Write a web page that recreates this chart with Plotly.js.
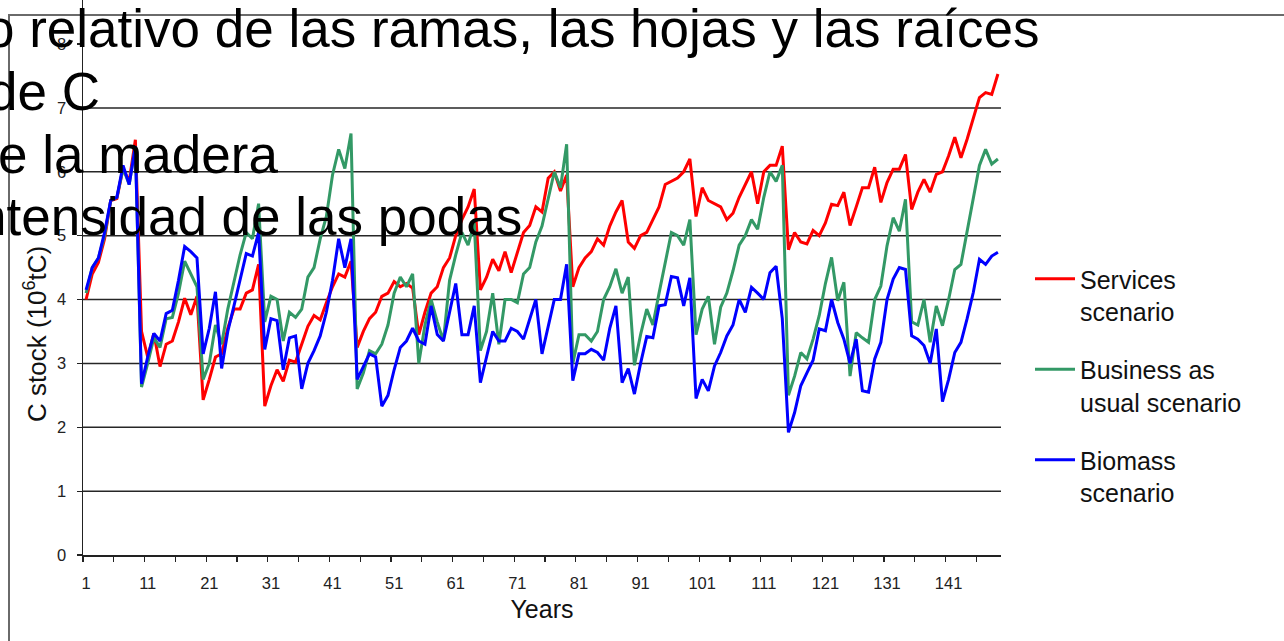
<!DOCTYPE html>
<html>
<head>
<meta charset="utf-8">
<script src="https://cdn.plot.ly/plotly-3.0.1.min.js"></script>
<style>
  html, body { margin: 0; padding: 0; background: #ffffff; }
  #wrap { position: relative; width: 1284px; height: 641px; overflow: hidden; background: #fff; }
  #frame { position: absolute; left: 8px; top: 14px; width: 1290px; height: 640px;
           border-left: 2px solid #6a6a6a; border-top: 2px solid #6a6a6a; }
  #chart { position: absolute; left: 0; top: 0; width: 1284px; height: 641px; }
</style>
</head>
<body>
<div id="wrap">
  <div id="frame"></div>
  <div id="chart"></div>
</div>
<script>
// ---- Data (C stock, 10^6 tC), one value per year ----
const services = [
  4.0, 4.4, 4.58, 4.95, 5.55, 5.58, 6.05, 5.85, 6.5, 3.5,
  3.1, 3.47, 2.95, 3.3, 3.35, 3.65, 4.02, 3.76, 4.05, 2.43,
  2.75, 3.1, 3.15, 3.55, 3.85, 3.85, 4.1, 4.15, 4.55, 2.33,
  2.65, 2.9, 2.72, 3.05, 3.02, 3.3, 3.58, 3.75, 3.68, 3.95,
  4.2, 4.4, 4.35, 4.6, 3.25, 3.5, 3.7, 3.8, 4.05, 4.1,
  4.28, 4.2, 4.25, 4.18, 3.45, 3.8, 4.1, 4.2, 4.5, 4.65,
  5.0, 5.25, 5.45, 5.73, 4.15, 4.35, 4.63, 4.45, 4.75, 4.42,
  4.75, 5.05, 5.16, 5.45, 5.37, 5.9, 6.0, 5.7, 5.95, 4.2,
  4.5, 4.65, 4.75, 4.95, 4.85, 5.15, 5.37, 5.55, 4.9, 4.8,
  5.0, 5.05, 5.25, 5.45, 5.8, 5.85, 5.9, 6.0, 6.2, 5.3,
  5.75, 5.55, 5.5, 5.45, 5.25, 5.35, 5.6, 5.8, 6.0, 5.5,
  6.0, 6.1, 6.1, 6.4, 4.78, 5.05, 4.9, 4.87, 5.08, 5.0,
  5.2, 5.49, 5.47, 5.68, 5.16, 5.45, 5.75, 5.75, 6.07, 5.52,
  5.83, 6.04, 6.04, 6.27, 5.41, 5.68, 5.88, 5.68, 5.96, 6.0,
  6.25, 6.54, 6.22, 6.51, 6.85, 7.16, 7.24, 7.21, 7.53
];
const businessAsUsual = [
  4.1, 4.5, 4.65, 5.0, 5.55, 5.6, 6.05, 5.8, 6.4, 2.63,
  3.0, 3.4, 3.25, 3.7, 3.72, 4.1, 4.6, 4.4, 4.2, 2.75,
  3.0, 3.6, 3.3, 3.85, 4.3, 4.7, 5.05, 4.95, 5.5, 3.65,
  4.05, 4.0, 3.35, 3.8, 3.72, 3.85, 4.35, 4.5, 4.95, 5.3,
  5.95, 6.35, 6.05, 6.6, 2.6, 2.85, 3.2, 3.15, 3.3, 3.6,
  4.1, 4.35, 4.2, 4.4, 3.0, 3.6, 4.0, 3.65, 3.35, 4.3,
  4.7, 5.05, 4.85, 5.2, 3.2, 3.5, 4.1, 3.3, 4.0, 4.0,
  3.95, 4.4, 4.5, 4.9, 5.15, 5.6, 6.0, 5.75, 6.43, 3.0,
  3.45, 3.45, 3.35, 3.5, 4.0, 4.2, 4.48, 4.1, 4.35, 2.97,
  3.45, 3.85, 3.6, 4.1, 4.55, 5.05, 5.0, 4.85, 5.25, 3.45,
  3.85, 4.05, 3.3, 3.88, 4.1, 4.45, 4.85, 5.0, 5.25, 5.1,
  5.6, 6.0, 5.85, 6.1, 2.5, 2.8, 3.17, 3.07, 3.38, 3.75,
  4.25, 4.66, 3.98, 4.27, 2.8, 3.48, 3.4, 3.33, 4.0, 4.21,
  4.84, 5.28, 5.07, 5.57, 3.65, 3.6, 4.0, 3.33, 3.9, 3.59,
  4.0, 4.47, 4.55, 5.05, 5.57, 6.1, 6.35, 6.12, 6.2
];
const biomass = [
  4.15, 4.5, 4.65, 5.05, 5.55, 5.6, 6.1, 5.8, 6.4, 2.68,
  3.1, 3.47, 3.35, 3.78, 3.83, 4.3, 4.83, 4.75, 4.65, 3.15,
  3.55, 4.12, 2.92, 3.5, 3.9, 4.3, 4.72, 4.68, 5.05, 3.22,
  3.7, 3.67, 2.9, 3.4, 3.43, 2.6, 3.0, 3.2, 3.43, 3.8,
  4.3, 4.95, 4.5, 4.95, 2.75, 2.95, 3.15, 3.1, 2.33, 2.5,
  2.9, 3.25, 3.35, 3.55, 3.35, 3.3, 3.9, 3.45, 3.35, 3.8,
  4.25, 3.45, 3.45, 3.9, 2.7, 3.1, 3.5, 3.35, 3.35, 3.55,
  3.5, 3.38, 3.7, 4.0, 3.15, 3.6, 4.0, 4.0, 4.55, 2.73,
  3.15, 3.15, 3.22, 3.17, 3.05, 3.55, 3.9, 2.7, 2.92, 2.52,
  3.0, 3.42, 3.4, 3.9, 3.92, 4.36, 4.34, 3.9, 4.34, 2.45,
  2.75, 2.57, 2.96, 3.17, 3.43, 3.6, 4.0, 3.8, 4.19, 4.1,
  4.0, 4.42, 4.52, 3.7, 1.92, 2.23, 2.65, 2.85, 3.05, 3.54,
  3.51, 4.0, 3.64, 3.38, 3.0, 3.38, 2.57, 2.55, 3.07, 3.33,
  4.0, 4.32, 4.5, 4.47, 3.43, 3.38, 3.28, 3.0, 3.54, 2.4,
  2.75, 3.17, 3.33, 3.7, 4.11, 4.63, 4.55, 4.68, 4.74
];
// categories: simulation years 1..149
const years = services.map((_, i) => i + 1);

const seriesNames = ['Services<br>scenario', 'Business as<br>usual scenario', 'Biomass<br>scenario'];
const seriesColors = ['#ff0000', '#339966', '#0000ff'];

const xTickVals = [1, 11, 21, 31, 41, 51, 61, 71, 81, 91, 101, 111, 121, 131, 141];
const xTickText = ['1', '11', '21', '31', '41', '51', '61', '71', '81', '91', '101', '111', '121', '131', '141'];
const yTickVals = [0, 1, 2, 3, 4, 5, 6, 7, 8];
const yTickText = ['0', '1', '2', '3', '4', '5', '6', '7', '8'];
const gridValues = [1, 2, 3, 4, 5, 6, 7];

const titleLines = [
  'o relativo de las ramas, las hojas y las raíces',
  'de C',
  'e la madera',
  'ntensidad de las podas'
];
const yTitle = 'C stock (10<sup>6</sup>tC)';
const xTitle = 'Years';

// ---- Layout geometry ----
const W = 1284, H = 641;
const M = { l: 83, r: 283, t: 0, b: 86 };
const PW = W - M.l - M.r, PH = H - M.t - M.b;
const px2x = px => (px - M.l) / PW;
const py2y = py => (H - M.b - py) / PH;

const FONT = 'Liberation Sans, Arial, sans-serif';

const traces = [services, businessAsUsual, biomass].map((vals, i) => ({
  type: 'scatter',
  mode: 'lines',
  x: years,
  y: vals,
  name: seriesNames[i],
  legendgroup: 'g' + i,
  line: { color: seriesColors[i], width: 3 },
  hoverinfo: 'skip'
}));

const titleStarts = [-17, -14, -4, -25];
const titleCenters = [28.5, 91.5, 154.5, 216.5];
const annotations = titleLines.map((t, i) => ({
  text: t,
  xref: 'paper', yref: 'paper',
  x: px2x(titleStarts[i]), y: py2y(titleCenters[i]),
  xanchor: 'left', yanchor: 'middle',
  showarrow: false,
  font: { family: FONT, size: 53, color: '#000' }
}));
// y axis title, placed where the reference draws it
annotations.push({
  text: yTitle,
  xref: 'paper', yref: 'paper',
  x: px2x(35), y: py2y(334),
  xanchor: 'center', yanchor: 'middle',
  textangle: -90,
  showarrow: false,
  font: { family: FONT, size: 26, color: '#111' }
});

const shapes = gridValues.map(v => ({
  type: 'line', layer: 'below',
  xref: 'paper', x0: 0, x1: 1,
  yref: 'y', y0: v, y1: v,
  line: { color: '#262626', width: 1.5 }
}));

const layout = {
  width: W, height: H,
  margin: M,
  paper_bgcolor: 'rgba(0,0,0,0)',
  plot_bgcolor: 'rgba(0,0,0,0)',
  font: { family: FONT, color: '#000' },
  showlegend: true,
  legend: {
    x: px2x(1030), y: py2y(256),
    xanchor: 'left', yanchor: 'top',
    bgcolor: 'rgba(0,0,0,0)',
    font: { family: FONT, size: 25, color: '#111' },
    itemwidth: 40,
    traceorder: 'grouped',
    tracegroupgap: 22.5,
    valign: 'top'
  },
  xaxis: {
    range: [0.5, 149.5],
    tickmode: 'array', tickvals: xTickVals, ticktext: xTickText,
    ticks: '', ticklabelstandoff: 13,
    tickfont: { family: FONT, size: 16.5, color: '#222' },
    showgrid: false, zeroline: false,
    showline: true, linecolor: '#222', linewidth: 1.5,
    minor: { tick0: 0.5, dtick: 5, ticks: 'outside', ticklen: 5, tickcolor: '#222', tickwidth: 1.2, showgrid: false },
    title: { text: xTitle, font: { family: FONT, size: 25, color: '#111' }, standoff: 9 }
  },
  yaxis: {
    range: [0, 8.689],
    tickmode: 'array', tickvals: yTickVals, ticktext: yTickText,
    ticks: 'outside', ticklen: 5, tickcolor: '#222', tickwidth: 1.2,
    ticklabelstandoff: 7,
    tickfont: { family: FONT, size: 16.5, color: '#222' },
    showgrid: false, zeroline: false,
    showline: true, linecolor: '#222', linewidth: 1.5
  },
  shapes: shapes,
  annotations: annotations
};

Plotly.newPlot('chart', traces, layout, { staticPlot: true, displayModeBar: false });
</script>
</body>
</html>
